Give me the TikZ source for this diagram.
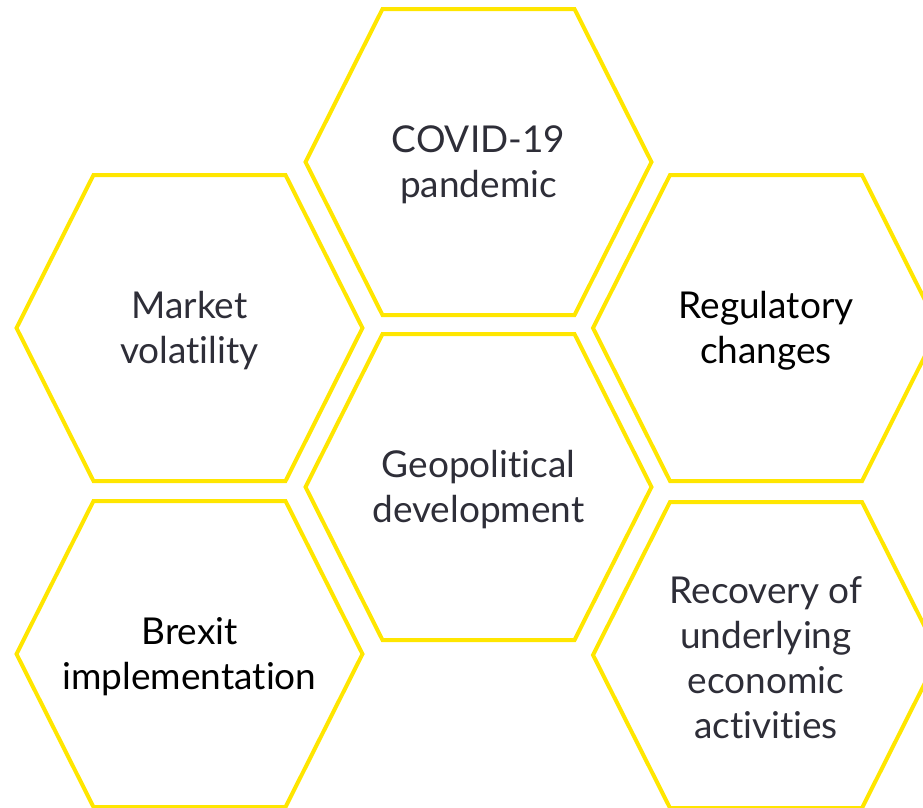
\documentclass[tikz,border=0pt]{standalone}
\usepackage{fontspec}
\setmainfont[Ligatures=NoCommon]{Lato}
\definecolor{hexyellow}{HTML}{FFE600}
\definecolor{hexgrey}{HTML}{2E2E38}
\tikzset{
  hexline/.style={draw=hexyellow, line width=4pt, line join=miter},
  hextext/.style={align=center, text=hexgrey, yshift=-3pt, font=\fontsize{37}{45}\selectfont}
}
% one honeycomb cell round a named node
\newcommand{\drawhex}[1]{%
  \draw[hexline, shift={(#1.center)}, yshift=3pt] (-173,0) -- (-96,153) -- (96,153) -- (173,0) -- (96,-153) -- (-96,-153) -- cycle;}

\begin{document}
\begin{tikzpicture}[x=1pt,y=-1pt]
\useasboundingbox (0,0) rectangle (923,807);
\clip (0,0) rectangle (923,807);
\node[hextext] (covid) at (478.5,162) {COVID-19\\pandemic};
\node[hextext] (geo) at (478.5,487) {Geopolitical\\development};
\node[hextext] (market) at (189.5,328) {Market\\volatility};
\node[hextext,text=black] (brexit) at (189.5,654) {Brexit\\implementation};
\node[hextext,text=black] (regul) at (766,328) {Regulatory\\changes};
\node[hextext] (recovery) at (766,655) {Recovery of\\underlying\\economic\\activities};
\foreach \c in {covid,geo,market,brexit,regul,recovery}
  \drawhex{\c};
\end{tikzpicture}
\end{document}
